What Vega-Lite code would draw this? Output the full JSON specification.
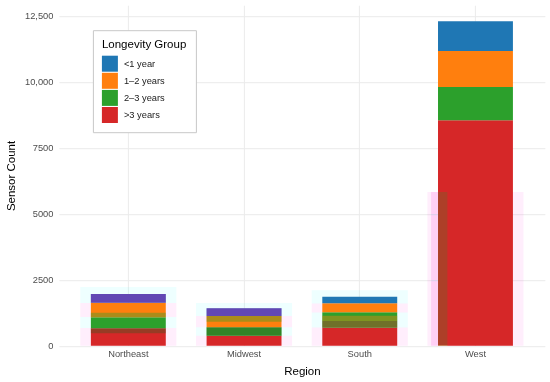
{
  "$schema": "https://vega.github.io/schema/vega-lite/v6.json",
  "autosize": {"type": "none"},
  "width": 486,
  "height": 340.5,
  "padding": {"left": 58.9, "top": 5.2, "right": 5.1, "bottom": 36.3},
  "background": "white",
  "config": {
    "view": {"stroke": null},
    "font": "Liberation Sans"
  },
  "datasets": {
    "main": [
      {"Region": "Northeast", "group": ">3 years", "ord": 1, "count": 659},
      {"Region": "Northeast", "group": "2–3 years", "ord": 2, "count": 417},
      {"Region": "Northeast", "group": "1–2 years", "ord": 3, "count": 553},
      {"Region": "Northeast", "group": "<1 year", "ord": 4, "count": 329},
      {"Region": "Midwest", "group": ">3 years", "ord": 1, "count": 379},
      {"Region": "Midwest", "group": "2–3 years", "ord": 2, "count": 318},
      {"Region": "Midwest", "group": "1–2 years", "ord": 3, "count": 428},
      {"Region": "Midwest", "group": "<1 year", "ord": 4, "count": 291},
      {"Region": "South", "group": ">3 years", "ord": 1, "count": 682},
      {"Region": "South", "group": "2–3 years", "ord": 2, "count": 583},
      {"Region": "South", "group": "1–2 years", "ord": 3, "count": 341},
      {"Region": "South", "group": "<1 year", "ord": 4, "count": 250},
      {"Region": "West", "group": ">3 years", "ord": 1, "count": 8538},
      {"Region": "West", "group": "2–3 years", "ord": 2, "count": 1261},
      {"Region": "West", "group": "1–2 years", "ord": 3, "count": 1364},
      {"Region": "West", "group": "<1 year", "ord": 4, "count": 1125}
    ],
    "faint": [
      {"Region": "Northeast", "lo": 0, "hi": 670, "shade": "pink"},
      {"Region": "Northeast", "lo": 670, "hi": 1090, "shade": "cyan"},
      {"Region": "Northeast", "lo": 1090, "hi": 1620, "shade": "pink"},
      {"Region": "Northeast", "lo": 1620, "hi": 2220, "shade": "cyan"},
      {"Region": "Midwest", "lo": 0, "hi": 380, "shade": "pink"},
      {"Region": "Midwest", "lo": 380, "hi": 700, "shade": "cyan"},
      {"Region": "Midwest", "lo": 700, "hi": 1125, "shade": "pink"},
      {"Region": "Midwest", "lo": 1125, "hi": 1620, "shade": "cyan"},
      {"Region": "South", "lo": 0, "hi": 690, "shade": "pink"},
      {"Region": "South", "lo": 690, "hi": 1260, "shade": "cyan"},
      {"Region": "South", "lo": 1260, "hi": 1600, "shade": "pink"},
      {"Region": "South", "lo": 1600, "hi": 2100, "shade": "cyan"},
      {"Region": "West", "lo": 0, "hi": 5822, "shade": "pink"}
    ],
    "tint": [
      {"Region": "Northeast", "lo": 1629, "hi": 1958, "tint": "magenta"},
      {"Region": "Northeast", "lo": 1076, "hi": 1250, "tint": "green"},
      {"Region": "Northeast", "lo": 470, "hi": 659, "tint": "dark"},
      {"Region": "Midwest", "lo": 1125, "hi": 1416, "tint": "magenta"},
      {"Region": "Midwest", "lo": 909, "hi": 1125, "tint": "green"},
      {"Region": "Midwest", "lo": 379, "hi": 697, "tint": "dark"},
      {"Region": "South", "lo": 936, "hi": 1136, "tint": "orange"},
      {"Region": "South", "lo": 682, "hi": 936, "tint": "red"}
    ],
    "stripe": [
      {"Region": "West", "slot": "a", "lo": 0, "hi": 5822}
    ]
  },
  "encoding": {
    "x": {
      "field": "Region",
      "type": "nominal",
      "sort": ["Northeast", "Midwest", "South", "West"],
      "scale": {"paddingInner": 0.17, "paddingOuter": 0.185},
      "title": "Region",
      "axis": {
        "labelAngle": 0,
        "domain": false,
        "ticks": false,
        "grid": true,
        "bandPosition": 0.5,
        "gridColor": "#ebebeb",
        "gridWidth": 1,
        "labelFontSize": 9.3,
        "labelColor": "#4d4d4d",
        "labelPadding": 4,
        "titleFontSize": 11.5,
        "titleFontWeight": "normal",
        "titleColor": "#000000",
        "titlePadding": 6
      }
    }
  },
  "layer": [
    {
      "data": {"name": "faint"},
      "mark": {"type": "bar", "opacity": 0.1},
      "encoding": {
        "y": {"field": "lo", "type": "quantitative", "title": "Sensor Count"},
        "y2": {"field": "hi"},
        "color": {
          "field": "shade",
          "type": "nominal",
          "scale": {"domain": ["pink", "cyan"], "range": ["#ff55dd", "#55ffff"]},
          "legend": null
        }
      }
    },
    {
      "data": {"name": "main"},
      "mark": {"type": "bar", "width": {"band": 0.78}},
      "encoding": {
        "y": {
          "field": "count",
          "type": "quantitative",
          "stack": "zero",
          "title": "Sensor Count",
          "scale": {"domain": [0, 12900], "nice": false, "zero": true},
          "axis": {
            "values": [0, 1250, 2500, 3750, 5000, 6250, 7500, 8750, 10000, 11250, 12500],
            "labelExpr": "datum.value % 2500 !== 0 ? '' : (datum.value >= 10000 ? format(datum.value, ',') : format(datum.value, 'd'))",
            "domain": false,
            "ticks": false,
            "grid": true,
            "gridColor": {"condition": {"test": "datum.value % 2500 === 0", "value": "#ebebeb"}, "value": "#f5f5f5"},
            "gridWidth": 1,
            "labelFontSize": 9.3,
            "labelColor": "#4d4d4d",
            "labelPadding": 6,
            "titleFontSize": 11.5,
            "titleFontWeight": "normal",
            "titleColor": "#000000",
            "titlePadding": 8
          }
        },
        "color": {
          "field": "group",
          "type": "nominal",
          "scale": {
            "domain": ["<1 year", "1–2 years", "2–3 years", ">3 years"],
            "range": ["#1f77b4", "#ff7f0e", "#2ca02c", "#d62728"]
          },
          "legend": {
            "orient": "none",
            "legendX": 34,
            "legendY": 25,
            "title": "Longevity Group",
            "symbolType": "square",
            "symbolSize": 256,
            "symbolStrokeWidth": 0,
            "symbolOpacity": 1,
            "padding": 9,
            "strokeColor": "#c8c8c8",
            "fillColor": "#ffffff",
            "cornerRadius": 0,
            "titleFontSize": 11.5,
            "titleFontWeight": "normal",
            "titleColor": "#000000",
            "titlePadding": 5,
            "labelFontSize": 9.3,
            "labelColor": "#1a1a1a",
            "labelOffset": 6,
            "rowPadding": 1.1
          }
        },
        "order": {"field": "ord", "type": "quantitative"}
      }
    },
    {
      "data": {"name": "tint"},
      "mark": {"type": "bar", "width": {"band": 0.78}, "opacity": 0.4},
      "encoding": {
        "y": {"field": "lo", "type": "quantitative", "title": "Sensor Count"},
        "y2": {"field": "hi"},
        "color": {
          "field": "tint",
          "type": "nominal",
          "scale": {
            "domain": ["magenta", "green", "dark", "orange", "red"],
            "range": ["#c800b4", "#2ca02c", "#3a5a20", "#ff7f0e", "#d62728"]
          },
          "legend": null
        }
      }
    },
    {
      "data": {"name": "stripe"},
      "mark": {"type": "bar", "color": "#00cc80", "blend": "overlay"},
      "encoding": {
        "xOffset": {
          "field": "slot",
          "type": "nominal",
          "scale": {"domain": ["a", "b", "c", "d", "e"], "paddingInner": 0.1, "paddingOuter": 0.2}
        },
        "y": {"field": "lo", "type": "quantitative", "title": "Sensor Count"},
        "y2": {"field": "hi"}
      }
    },
    {
      "data": {"name": "stripe"},
      "mark": {"type": "bar", "color": "#ffd0f5", "blend": "darken"},
      "encoding": {
        "xOffset": {
          "field": "slot",
          "type": "nominal",
          "scale": {"domain": ["a", "b", "c", "d", "e"], "paddingInner": 0.1, "paddingOuter": 0.2}
        },
        "y": {"field": "lo", "type": "quantitative", "title": "Sensor Count"},
        "y2": {"field": "hi"}
      }
    }
  ],
  "resolve": {"scale": {"color": "independent"}}
}
